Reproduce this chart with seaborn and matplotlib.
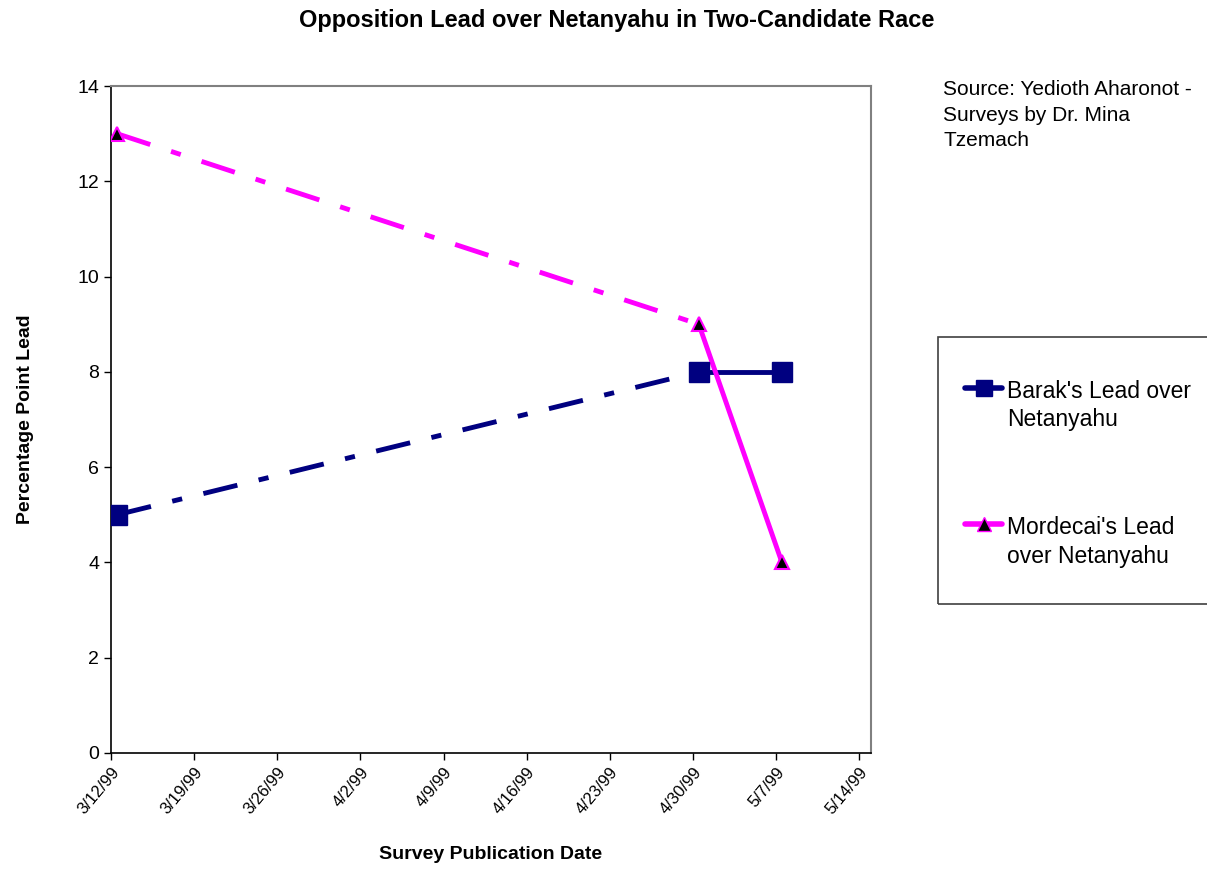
import pandas as pd
import matplotlib.pyplot as plt
import matplotlib.patches as mpatches
import seaborn as sns

# survey dates and leads (percentage points)
survey_dates = ['1999-03-12', '1999-04-30', '1999-05-07']
barak_lead = [5, 8, 8]
mordecai_lead = [13, 9, 4]

tick_dates = ['1999-03-12', '1999-03-19', '1999-03-26', '1999-04-02', '1999-04-09',
              '1999-04-16', '1999-04-23', '1999-04-30', '1999-05-07', '1999-05-14']
tick_labels = ['3/12/99', '3/19/99', '3/26/99', '4/2/99', '4/9/99',
               '4/16/99', '4/23/99', '4/30/99', '5/7/99', '5/14/99']

barak_name = "Barak's Lead over\nNetanyahu"
mordecai_name = "Mordecai's Lead\nover Netanyahu"

sns.set_style('ticks')
plt.rcParams['font.family'] = ['Liberation Sans', 'DejaVu Sans']
plt.rcParams.update({'text.color': 'black', 'axes.labelcolor': 'black',
                     'xtick.color': 'black', 'ytick.color': 'black'})

# excel puts points in the middle of the day
x = pd.to_datetime(survey_dates) + pd.Timedelta(hours=12)

fig = plt.figure(figsize=(12.07, 8.69), dpi=100)
ax = fig.add_axes([0.092, 0.1335, 0.6296, 0.7675])

dash = (0, (7.2, 4.5, 2.1, 4.5))
navy = '#000080'
magenta = '#FF00FF'

# first segment dashed, second segment solid
sns.lineplot(x=x[:2], y=barak_lead[:2], color=navy, lw=3.5, linestyle=dash, ax=ax)
sns.lineplot(x=x[1:], y=barak_lead[1:], color=navy, lw=3.5, ax=ax)
sns.lineplot(x=x[:2], y=mordecai_lead[:2], color=magenta, lw=3.5, linestyle=dash, ax=ax)
sns.lineplot(x=x[1:], y=mordecai_lead[1:], color=magenta, lw=3.5, ax=ax)

# markers on top
ax.plot(x, barak_lead, ls='none', marker='s', ms=14, color=navy, mec=navy, zorder=5)
ax.plot(x, mordecai_lead, ls='none', marker='^', ms=10.5, mfc='black', mec=magenta,
        mew=1.5, zorder=6)

ax.set_xlim(pd.Timestamp('1999-03-12'), pd.Timestamp('1999-05-15'))
ax.set_ylim(0, 14)
ax.set_yticks(range(0, 15, 2))
ax.set_xticks(pd.to_datetime(tick_dates))
ax.set_xticklabels(tick_labels, rotation=50, ha='right', rotation_mode='anchor')
ax.tick_params(labelsize=12, length=5, width=1, color='black')
ax.tick_params(axis='y', labelsize=14)

for s in ['top', 'right']:
    ax.spines[s].set_color('#808080')
    ax.spines[s].set_linewidth(1.5)
for s in ['left', 'bottom']:
    ax.spines[s].set_color('black')
    ax.spines[s].set_linewidth(1.2)

ax.set_xlabel('Survey Publication Date', fontsize=14, fontweight='bold')
ax.set_ylabel('Percentage Point Lead', fontsize=14, fontweight='bold')
ax.xaxis.set_label_coords(0.5, -0.139)
ax.yaxis.set_label_coords(-0.1013, 0.5)

fig.suptitle('Opposition Lead over Netanyahu in Two-Candidate Race',
             fontsize=17, fontweight='bold', x=0.511, y=0.99)

fig.text(943 / 1207, 1 - 80 / 869, 'Source: Yedioth Aharonot -\nSurveys by Dr. Mina\nTzemach',
         fontsize=15, va='top', ha='left', linespacing=1.45)

# legend box
fig.patches.append(mpatches.Rectangle((938 / 1207, 1 - 604 / 869), 0.25, 267 / 869,
                                      transform=fig.transFigure, fill=False,
                                      edgecolor='#404040', lw=1.2))
h1 = plt.Line2D([], [], color=navy, lw=4, marker='s', ms=12, solid_capstyle='round')
h2 = plt.Line2D([], [], color=magenta, lw=4, marker='^', ms=10, mfc='black', mec=magenta,
                solid_capstyle='round')
leg = fig.legend([h1, h2], [barak_name, mordecai_name], loc='upper left',
                 bbox_to_anchor=(944 / 1207, 1 - 359 / 869), frameon=False,
                 fontsize=16.5, handlelength=1.65, handletextpad=0.2, labelspacing=3.72)
for t in leg.get_texts():
    t.set_linespacing(1.3)
# handle next to the first line of the label, like excel
for col in leg._legend_handle_box.get_children():
    for row in col.get_children():
        row.align = 'top'

plt.savefig('out.png', dpi=100)
